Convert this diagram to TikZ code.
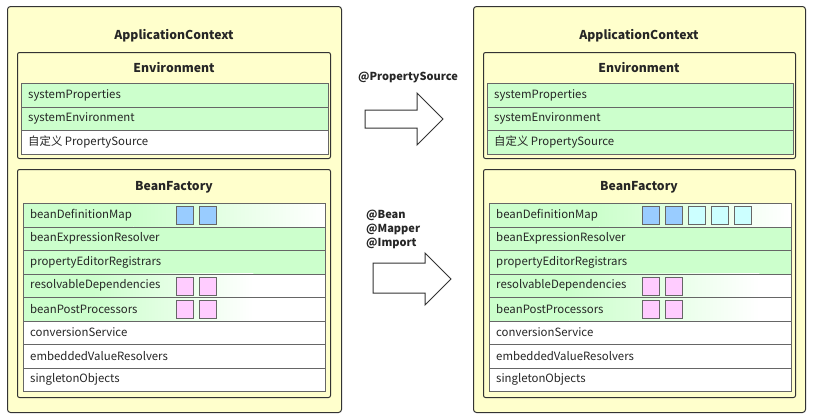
\documentclass[tikz,border=0pt]{standalone}
\usepackage{fontspec}
\setmainfont{Noto Sans CJK SC}
\definecolor{ybg}{HTML}{FFFFCC}
\definecolor{grn}{HTML}{CCFFCC}
\definecolor{sqblue}{HTML}{99CCFF}
\definecolor{sqcyan}{HTML}{CCFFFF}
\definecolor{sqpink}{HTML}{FFCCFF}
\definecolor{edge}{HTML}{333333}
\definecolor{rowedge}{HTML}{666666}
\tikzset{
  outerbox/.style={draw=edge, fill=ybg, line width=1pt, rounded corners=3pt, inner sep=0pt, anchor=north west},
  innerbox/.style={draw=edge, fill=ybg, line width=1pt, rounded corners=2pt, inner sep=0pt, anchor=north west},
  rowst/.style={draw=rowedge, line width=0.7pt, inner sep=0pt, minimum height=23.5pt, anchor=north west},
  rowtxt/.style={font=\fontsize{11.4}{13}\selectfont, inner sep=0pt, anchor=west, text=black!85},
  ttl/.style={font=\fontsize{12.2}{14}\selectfont\bfseries, inner sep=0pt, text=black!85},
  lbl/.style={font=\fontsize{11}{12}\selectfont\bfseries, inner sep=0pt, text=black!85, anchor=west},
  sq/.style={draw=rowedge, line width=0.7pt, minimum width=17pt, minimum height=18pt, inner sep=0pt, anchor=north west},
  grad/.style 2 args={fill=white, path picture={
    \fill[grn] (path picture bounding box.north west) rectangle ([xshift=#1pt]path picture bounding box.south west);
    \shade[left color=grn, right color=white] ([xshift=#1pt]path picture bounding box.north west) rectangle ([xshift=#2pt]path picture bounding box.south west);}},
  blockarrow/.style={draw=edge, fill=white, line width=1pt, line join=miter}
}
\newcommand\mkrow[6]{%
  \node[rowst, #5, minimum width=#4pt] (#1) at (#2,#3) {};
  \node[rowtxt] (#1t) at ([xshift=7pt]#1.west) {#6};
}
\begin{document}
\begin{tikzpicture}[x=1pt,y=-1pt]
\useasboundingbox (0,0) rectangle (813,418);
\fill[white] (0,0) rectangle (813,418);

% ===== Left panel =====
\node[outerbox, minimum width=334pt, minimum height=406pt] (LA) at (7,6) {};
\node[ttl] (LAt) at (174,36) {ApplicationContext};
\node[innerbox, minimum width=313pt, minimum height=106pt] (LE) at (17,52) {};
\node[ttl] (LEt) at (174,68) {Environment};
\mkrow{le1}{21}{83}{307}{fill=grn}{systemProperties}
\mkrow{le2}{21}{106.5}{307}{fill=grn}{systemEnvironment}
\mkrow{le3}{21}{130}{307}{fill=white}{自定义 PropertySource}

\node[innerbox, minimum width=313pt, minimum height=228pt] (LB) at (17,169) {};
\node[ttl] (LBt) at (174,187) {BeanFactory};
\mkrow{lb1}{23}{203}{302}{grad={110}{302}}{beanDefinitionMap}
\mkrow{lb2}{23}{226.5}{302}{fill=grn}{beanExpressionResolver}
\mkrow{lb3}{23}{250}{302}{fill=grn}{propertyEditorRegistrars}
\mkrow{lb4}{23}{273.5}{302}{grad={70}{230}}{resolvableDependencies}
\mkrow{lb5}{23}{297}{302}{grad={70}{230}}{beanPostProcessors}
\mkrow{lb6}{23}{320.5}{302}{fill=white}{conversionService}
\mkrow{lb7}{23}{344}{302}{fill=white}{embeddedValueResolvers}
\mkrow{lb8}{23}{367.5}{302}{fill=white}{singletonObjects}

\node[sq, fill=sqblue] (lsq1) at (176,206) {};
\node[sq, fill=sqblue] (lsq2) at (199,206) {};
\node[sq, fill=sqpink] (lsq3) at (176,276.5) {};
\node[sq, fill=sqpink] (lsq4) at (199,276.5) {};
\node[sq, fill=sqpink] (lsq5) at (176,300) {};
\node[sq, fill=sqpink] (lsq6) at (199,300) {};

% ===== Arrows =====
\node[lbl] (a1l) at (358,77) {@PropertySource};
\draw[blockarrow] (365,110) -- (417,110) -- (417,93) -- (443,119) -- (417,145) -- (417,128) -- (365,128) -- cycle;
\node[lbl] (a2l1) at (366,215) {@Bean};
\node[lbl] (a2l2) at (366,229) {@Mapper};
\node[lbl] (a2l3) at (366,243) {@Import};
\draw[blockarrow] (373,263) -- (425,263) -- (425,253) -- (451,279) -- (425,305) -- (425,293) -- (373,293) -- cycle;

% ===== Right panel =====
\node[outerbox, minimum width=332pt, minimum height=406pt] (RA) at (473,6) {};
\node[ttl] (RAt) at (639,36) {ApplicationContext};
\node[innerbox, minimum width=312pt, minimum height=106pt] (RE) at (483,52) {};
\node[ttl] (REt) at (639,68) {Environment};
\mkrow{re1}{487}{83}{306}{fill=grn}{systemProperties}
\mkrow{re2}{487}{106.5}{306}{fill=grn}{systemEnvironment}
\mkrow{re3}{487}{130}{306}{fill=grn}{自定义 PropertySource}

\node[innerbox, minimum width=312pt, minimum height=228pt] (RB) at (483,169) {};
\node[ttl] (RBt) at (639,187) {BeanFactory};
\mkrow{rb1}{489}{203}{302}{grad={110}{300}}{beanDefinitionMap}
\mkrow{rb2}{489}{226.5}{302}{fill=grn}{beanExpressionResolver}
\mkrow{rb3}{489}{250}{302}{fill=grn}{propertyEditorRegistrars}
\mkrow{rb4}{489}{273.5}{302}{grad={80}{270}}{resolvableDependencies}
\mkrow{rb5}{489}{297}{302}{grad={80}{270}}{beanPostProcessors}
\mkrow{rb6}{489}{320.5}{302}{fill=white}{conversionService}
\mkrow{rb7}{489}{344}{302}{fill=white}{embeddedValueResolvers}
\mkrow{rb8}{489}{367.5}{302}{fill=white}{singletonObjects}

\node[sq, fill=sqblue] (rsq1) at (642,206) {};
\node[sq, fill=sqblue] (rsq2) at (665,206) {};
\node[sq, fill=sqcyan] (rsq3) at (688,206) {};
\node[sq, fill=sqcyan] (rsq4) at (711,206) {};
\node[sq, fill=sqcyan] (rsq5) at (734,206) {};
\node[sq, fill=sqpink] (rsq6) at (642,276.5) {};
\node[sq, fill=sqpink] (rsq7) at (665,276.5) {};
\node[sq, fill=sqpink] (rsq8) at (642,300) {};
\node[sq, fill=sqpink] (rsq9) at (665,300) {};
\end{tikzpicture}
\end{document}
